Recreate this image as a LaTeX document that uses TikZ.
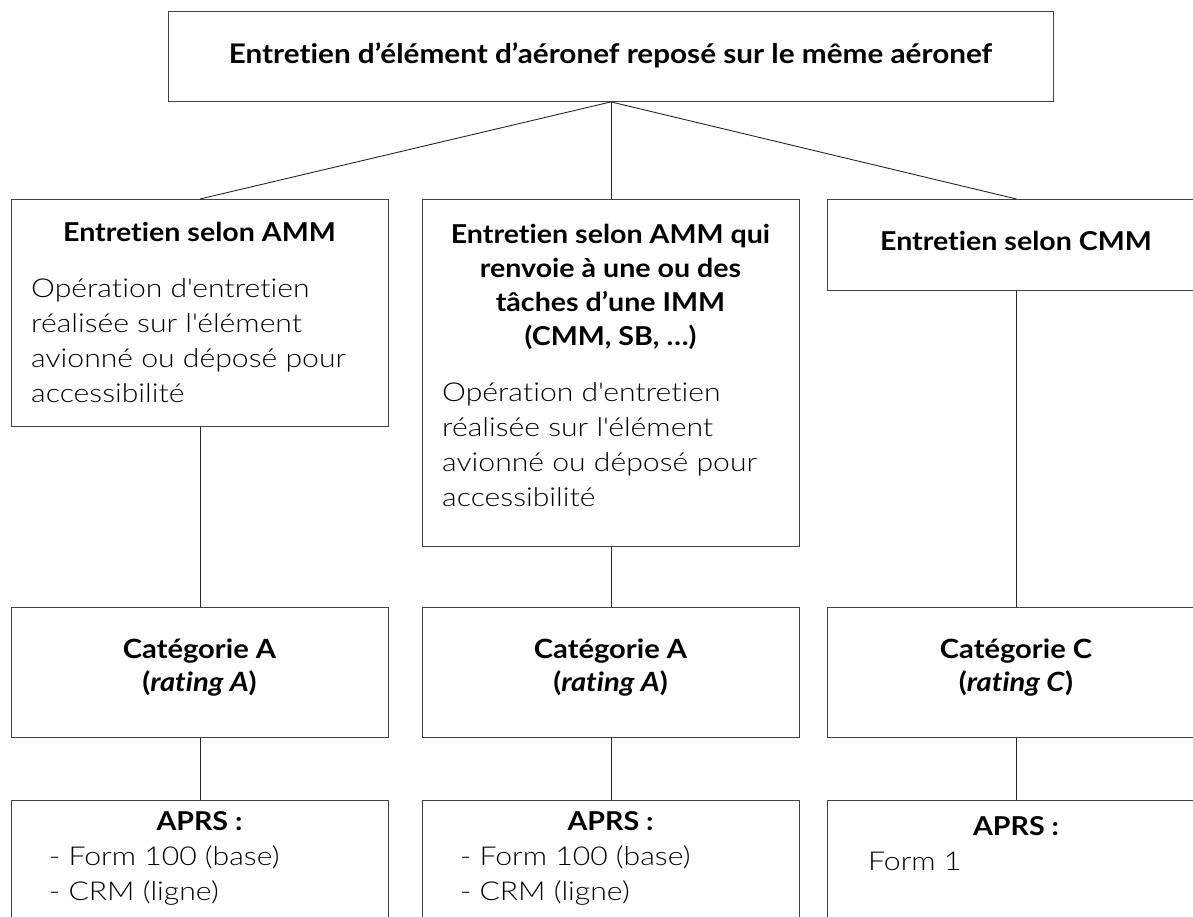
\documentclass[tikz,border=0pt]{standalone}
\usepackage{fontspec}
\setmainfont{Lato}[FakeStretch=1.1, Ligatures={TeX,NoCommon}]
\newfontfamily\lightf{Lato Light}[FakeStretch=1.16, Ligatures={TeX,NoCommon}]
\newcommand\hdfont{\fontsize{26}{34}\selectfont\bfseries}
\newcommand\catfont{\fontsize{26.5}{33}\selectfont\bfseries}
\newcommand\bdfont{\lightf\fontsize{26}{35}\selectfont}
\newcommand\sq{\textquotesingle}
\begin{document}
\begin{tikzpicture}[x=1pt,y=-1pt,
  box/.style={draw=black!75, line width=0.9pt, rectangle, inner sep=0pt, anchor=north west},
  link/.style={draw=black!85, line width=0.9pt},
  hd/.style={font=\hdfont, anchor=base, inner sep=0pt, align=center},
  cat/.style={font=\catfont, anchor=base, inner sep=0pt, align=center},
  bd/.style={font=\bdfont, anchor=base west, inner sep=0pt, align=left}]
\useasboundingbox (0,0) rectangle (1193,917);
\clip (0,0) rectangle (1193,917);
\fill[white] (0,0) rectangle (1193,917);

% boxes
\node[box, minimum width=885pt, minimum height=90pt] (top) at (168,11) {};
\node[box, minimum width=377pt, minimum height=227pt] (amm) at (11,199) {};
\node[box, minimum width=377pt, minimum height=347pt] (imm) at (422,199) {};
\node[box, minimum width=378pt, minimum height=91pt] (cmm) at (827,199) {};
\node[box, minimum width=377pt, minimum height=130pt] (catA1) at (11,607) {};
\node[box, minimum width=377pt, minimum height=130pt] (catA2) at (422,607) {};
\node[box, minimum width=378pt, minimum height=130pt] (catC) at (827,607) {};
\node[box, minimum width=377pt, minimum height=160pt] (aprs1) at (11,800) {};
\node[box, minimum width=377pt, minimum height=160pt] (aprs2) at (422,800) {};
\node[box, minimum width=378pt, minimum height=160pt] (aprs3) at (827,800) {};

% connectors
\draw[link] (top.south) -- (amm.north);
\draw[link] (top.south) -- (imm.north);
\draw[link] (top.south) -- (cmm.north);
\draw[link] (amm.south) -- (catA1.north);
\draw[link] (imm.south) -- (catA2.north);
\draw[link] (cmm.south) -- (catC.north);
\draw[link] (catA1.south) -- (aprs1.north);
\draw[link] (catA2.south) -- (aprs2.north);
\draw[link] (catC.south) -- (aprs3.north);

% texts (base anchor = baseline of the last line)
\node[hd, font=\fontsize{27}{34}\selectfont\bfseries] (ttop) at (610.5,64) {Entretien d’élément d’aéronef reposé sur le même aéronef};

\node[hd] (hamm) at (199.5,242) {Entretien selon AMM};
\node[bd] (bamm) at (31,402) {Opération d\sq entretien\\réalisée sur l\sq élément\\avionné ou déposé pour\\accessibilité};

\node[hd] (himm) at (610.5,345) {Entretien selon AMM qui\\renvoie à une ou des\\tâches d’une IMM\\(CMM, SB, …)};
\node[bd] (bimm) at (442,506) {Opération d\sq entretien\\réalisée sur l\sq élément\\avionné ou déposé pour\\accessibilité};

\node[hd] (hcmm) at (1016,251) {Entretien selon CMM};

\node[cat] (tcatA1) at (199.5,691) {Catégorie A\\(\textit{rating A})};
\node[cat] (tcatA2) at (610.5,691) {Catégorie A\\(\textit{rating A})};
\node[cat] (tcatC) at (1016,691) {Catégorie C\\(\textit{rating C})};

\node[hd] (haprs1) at (199.5,830) {APRS :};
\node[bd] (baprs1) at (49,900) {- Form 100 (base)\\- CRM (ligne)};
\node[hd] (haprs2) at (610.5,830) {APRS :};
\node[bd] (baprs2) at (460,900) {- Form 100 (base)\\- CRM (ligne)};
\node[hd] (haprs3) at (1016,835) {APRS :};
\node[bd] (baprs3) at (868,870) {Form 1};
\end{tikzpicture}
\end{document}
